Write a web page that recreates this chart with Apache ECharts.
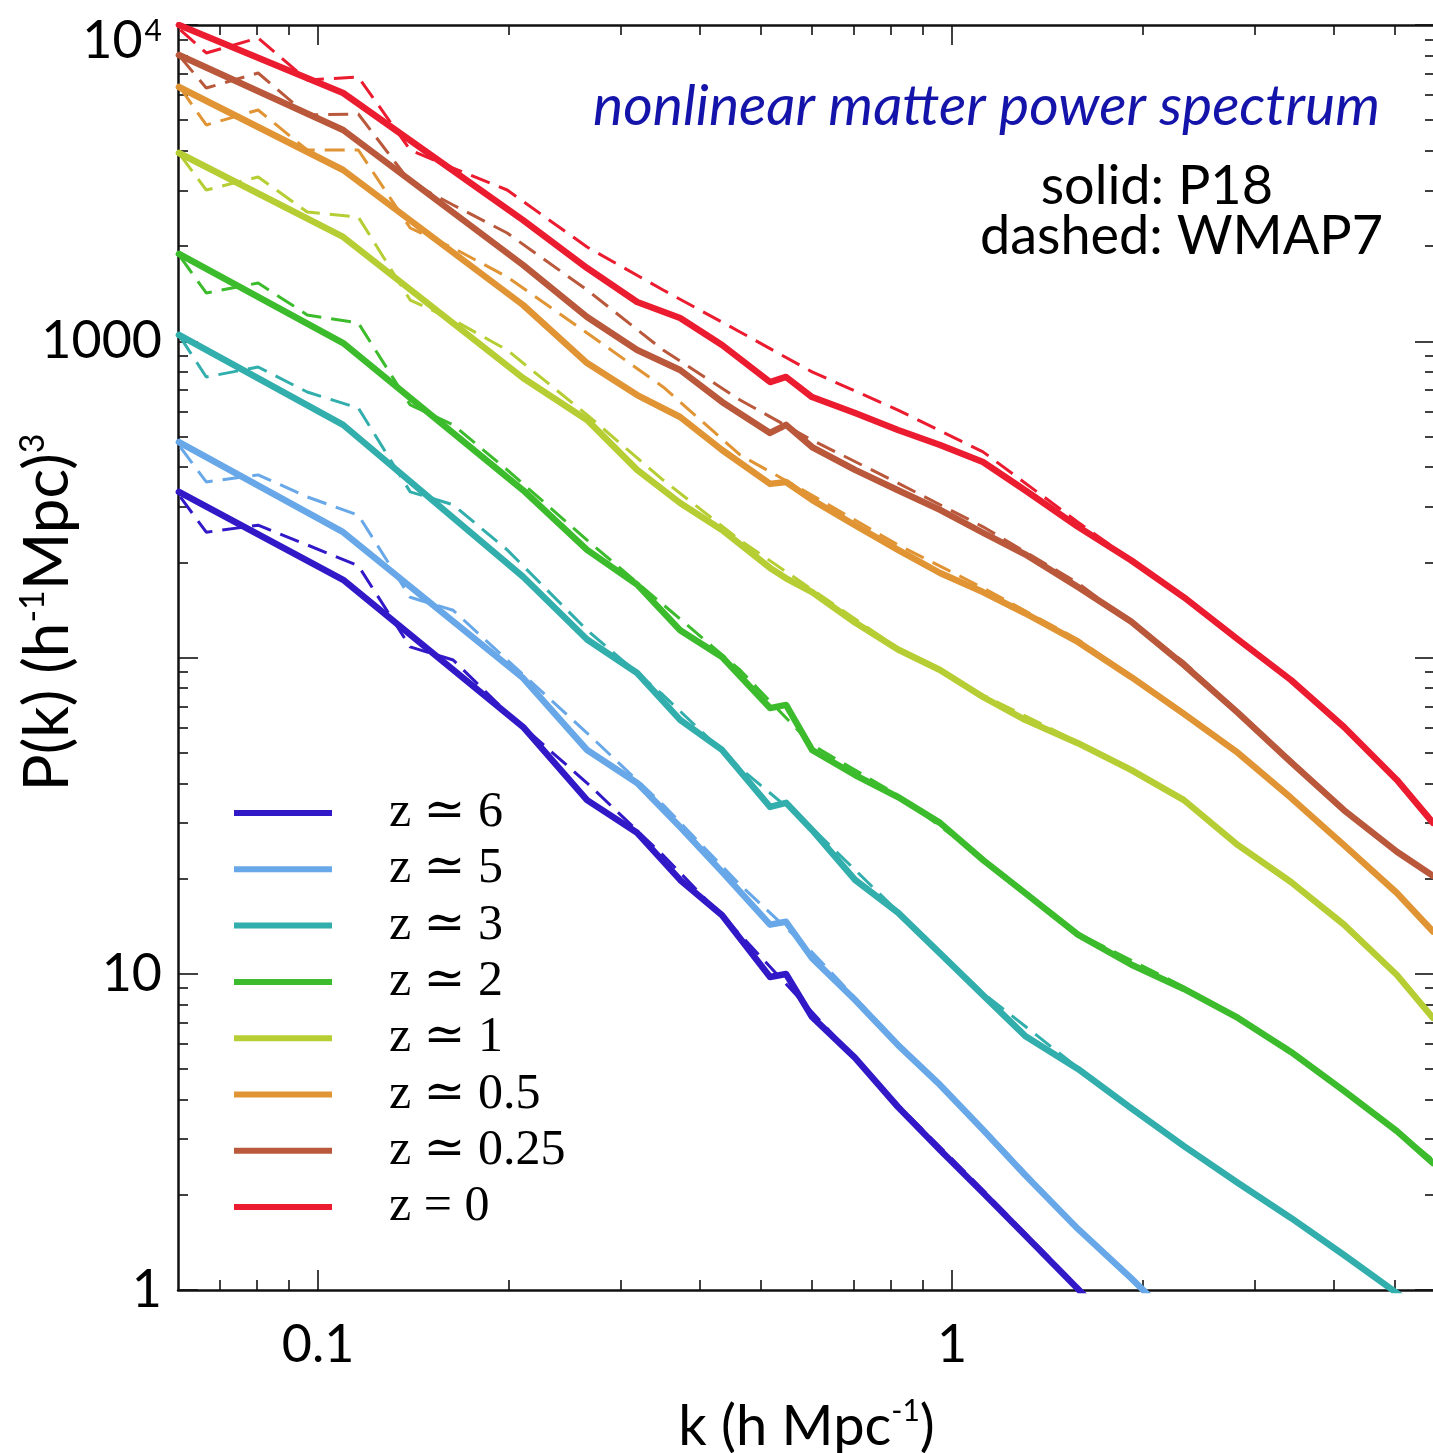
<!DOCTYPE html>
<html>
<head>
<meta charset="utf-8">
<script src="https://cdn.jsdelivr.net/npm/echarts@6/dist/echarts.min.js"></script>
<style>
html,body{margin:0;padding:0;background:#fff;}
#chart{width:1433px;height:1453px;}
</style>
</head>
<body>
<div id="chart"></div>
<script>
// ---------------- data ----------------
// wavenumbers (h/Mpc) of the P18 (solid) curves
const kP18 = [0.0603, 0.1095, 0.2105, 0.2656, 0.3186, 0.3724, 0.4337, 0.5163, 0.5472, 0.6014, 0.7031, 0.8218, 0.9574, 1.119, 1.304, 1.580, 1.916, 2.322, 2.826, 3.425, 4.153, 5.033, 5.737];
// wavenumbers (h/Mpc) of the WMAP7 (dashed) curves
const kWMAP7 = [0.0606, 0.0666, 0.0804, 0.0961, 0.1157, 0.1397, 0.1633, 0.1987, 0.2656, 0.3501, 0.4630, 0.6014, 0.8218, 1.119, 1.580, 2.322, 2.826, 3.425, 4.153, 5.033, 5.737];

// P(k) for P18 (solid)
const p18_z6   = [334, 176, 60.3, 35.4, 27.9, 19.8, 15.3, 9.77, 9.98, 7.30, 5.42, 3.79, 2.77, 2.03, 1.49, 1.007, 0.680];
const p18_z5   = [480, 249, 86.1, 51.0, 40.1, 29.1, 21.0, 14.3, 14.6, 11.2, 8.26, 5.95, 4.45, 3.21, 2.31, 1.56, 1.09, 0.747];
const p18_z3   = [1047, 544, 180, 114, 89.3, 63.5, 51.0, 33.7, 34.7, 28.5, 19.8, 15.6, 11.6, 8.56, 6.36, 5.00, 3.76, 2.85, 2.18, 1.69, 1.29, 0.978, 0.804];
const p18_z2   = [1888, 987, 338, 219, 170, 122, 100.4, 69.2, 70.8, 51.0, 42.5, 36.2, 30.0, 22.9, 18.0, 13.3, 10.7, 8.95, 7.25, 5.66, 4.26, 3.18, 2.52];
const p18_z1   = [3938, 2137, 765, 564, 392, 308, 253, 192, 178, 161, 129, 106, 91.3, 75.0, 63.5, 53.6, 44.1, 35.4, 25.5, 19.5, 14.3, 9.91, 7.25];
const p18_z05  = [6368, 3479, 1302, 853, 676, 576, 453, 354, 359, 315, 262, 219, 185, 161, 138, 112, 86.8, 66.3, 49.9, 36.0, 25.5, 18.0, 13.6];
const p18_z025 = [8036, 4656, 1742, 1193, 938, 811, 643, 513, 544, 463, 392, 338, 293, 248, 212, 167, 130, 94.7, 66.8, 46.7, 32.9, 24.3, 20.4];
const p18_z0   = [10000, 6095, 2417, 1704, 1331, 1185, 973, 743, 771, 666, 593, 524, 470, 415, 338, 259, 203, 155, 114, 84.9, 60.3, 41.0, 30.0];

// P(k) for WMAP7 (dashed)
const wmap7_z6   = [322, 249, 262, 227, 195, 108, 98.2, 66.8, 40.1, 23.7, 13.3, 7.57, 3.85, 2.07, 1.022, 0.449];
const wmap7_z5   = [463, 359, 378, 322, 282, 155, 141, 98.2, 57.7, 34.2, 19.1, 11.7, 6.04, 3.25, 1.57, 0.747];
const wmap7_z3   = [1031, 771, 829, 691, 615, 334, 304, 219, 122, 76.1, 44.7, 28.9, 15.7, 8.69, 5.04, 2.87, 2.18, 1.70, 1.29, 0.978, 0.804];
const wmap7_z2   = [1847, 1421, 1528, 1211, 1142, 629, 544, 392, 235, 147, 91.3, 52.9, 36.7, 23.2, 13.4, 9.08, 7.25, 5.74, 4.26, 3.18, 2.58];
const wmap7_z1   = [3881, 3008, 3307, 2563, 2471, 1350, 1168, 938, 585, 364, 235, 164, 107, 76.1, 54.0, 35.4, 25.5, 19.5, 14.3, 9.91, 7.25];
const wmap7_z05  = [6322, 4829, 5385, 4024, 4024, 2281, 1972, 1597, 1062, 717, 437, 326, 227, 166, 114, 66.8, 49.9, 36.2, 25.5, 18.0, 13.7];
const wmap7_z025 = [7920, 6322, 7050, 5192, 5231, 3189, 2697, 2199, 1452, 938, 652, 487, 356, 259, 172, 96.8, 66.8, 47.4, 32.9, 24.3, 20.4];
const wmap7_z0   = [9643, 8157, 9097, 6700, 6848, 4024, 3530, 3008, 1986, 1452, 1070, 800, 606, 447, 268, 155, 114, 84.9, 60.3, 41.0, 30.6];

const redshiftLabels = ['z \u2243 6', 'z \u2243 5', 'z \u2243 3', 'z \u2243 2', 'z \u2243 1', 'z \u2243 0.5', 'z \u2243 0.25', 'z = 0'];
const lineColors = ['#3219c8', '#68a8e8', '#32aeac', '#3cbc2c', '#b6ce34', '#e09434', '#ba583c', '#ec1c30'];

// axis ticks
const xTickValues = [0.1, 1];
const xMinorTicks = [0.07, 0.08, 0.09, 0.2, 0.3, 0.4, 0.5, 0.6, 0.7, 0.8, 0.9, 2, 3, 4, 5];
const yTickValues = [1, 10, 1000, 10000];
const yMajorTicks = [1, 10, 100, 1000, 10000];
const yMinorTicks = [2,3,4,5,6,7,8,9, 20,30,40,50,60,70,80,90, 200,300,400,500,600,700,800,900, 2000,3000,4000,5000,6000,7000,8000,9000];
const xRange = [0.0601, 5.78];
const yRange = [1, 10000];

// ---------------- chart ----------------
const L = Math.log10;
const SANS = 'Lato, "Open Sans", "DejaVu Sans", sans-serif';
const SERIF = '"Liberation Serif", "DejaVu Serif", serif';
const AX = '#111';

const P18 = [p18_z6, p18_z5, p18_z3, p18_z2, p18_z1, p18_z05, p18_z025, p18_z0];
const W7 = [wmap7_z6, wmap7_z5, wmap7_z3, wmap7_z2, wmap7_z1, wmap7_z05, wmap7_z025, wmap7_z0];

function toLog(ks, ps) { return ps.map((p, i) => [L(ks[i]), L(p)]); }

function xAxisDef(position, ticks, len, withLine, withLabels) {
  const a = {
    type: 'value', position, min: L(xRange[0]), max: L(xRange[1]),
    axisLine: { show: withLine, onZero: false, lineStyle: { color: AX, width: 2.5 } },
    axisTick: { show: true, inside: true, length: len, customValues: ticks.map(L), lineStyle: { color: AX, width: 1.6 } },
    axisLabel: { show: false },
    splitLine: { show: false }
  };
  if (withLabels) {
    a.axisLabel = {
      show: true, customValues: xTickValues.map(L), margin: 29,
      formatter: v => String(+Math.pow(10, v).toPrecision(3)),
      color: '#000', fontSize: 52, fontFamily: SANS
    };
    a.name = '{a|k (h Mpc}{s|-1}{a|)}';
    a.nameLocation = 'middle';
    a.nameGap = 106;
    a.nameMoveOverlap = false;
    a.nameTextStyle = {
      rich: {
        a: { fontSize: 56, fontFamily: SANS, color: '#000', lineHeight: 62 },
        s: { fontSize: 30, fontFamily: SANS, color: '#000', verticalAlign: 'top', lineHeight: 34 }
      }
    };
  }
  return a;
}
function yAxisDef(position, ticks, len, withLine, withLabels) {
  const a = {
    type: 'value', position, min: L(yRange[0]), max: L(yRange[1]),
    axisLine: { show: withLine, onZero: false, lineStyle: { color: AX, width: 2.5 } },
    axisTick: { show: true, inside: true, length: len, customValues: ticks.map(L), lineStyle: { color: AX, width: 1.6 } },
    axisLabel: { show: false },
    splitLine: { show: false }
  };
  if (withLabels) {
    a.axisLabel = {
      show: true, customValues: yTickValues.map(L), margin: 16,
      formatter: v => {
        const p = Math.round(Math.pow(10, v));
        if (p >= 10000) return '{b|10}{sup|' + Math.round(v) + '}';
        return String(p);
      },
      color: '#000', fontSize: 52, fontFamily: SANS,
      rich: {
        b: { fontSize: 52, fontFamily: SANS, color: '#000', lineHeight: 58, padding: [32, 0, 0, 0] },
        sup: { fontSize: 30, fontFamily: SANS, color: '#000', lineHeight: 30, padding: [20, 0, 0, 2], verticalAlign: 'top' }
      }
    };
    a.name = '{a|P(k) (h}{s|-1}{a|Mpc)}{s|3}';
    a.nameLocation = 'middle';
    a.nameGap = 98;
    a.nameMoveOverlap = false;
    a.nameTextStyle = {
      padding: [0, 0, 0, 90],
      rich: {
        a: { fontSize: 62, fontFamily: SANS, color: '#000', lineHeight: 64 },
        s: { fontSize: 34, fontFamily: SANS, color: '#000', verticalAlign: 'top', lineHeight: 36 }
      }
    };
  }
  return a;
}

const series = [];
P18.forEach((ps, i) => {
  series.push({
    type: 'line', name: redshiftLabels[i], data: toLog(kP18, ps),
    xAxisIndex: 0, yAxisIndex: 0, showSymbol: false, symbol: 'none', clip: true, z: 3,
    color: lineColors[i],
    lineStyle: { color: lineColors[i], width: 6.5, cap: 'round', join: 'round' }
  });
});
W7.forEach((ps, i) => {
  series.push({
    type: 'line', name: redshiftLabels[i] + ' WMAP7', data: toLog(kWMAP7, ps),
    xAxisIndex: 0, yAxisIndex: 0, showSymbol: false, symbol: 'none', clip: true, z: 4,
    color: lineColors[i],
    lineStyle: { color: lineColors[i], width: 3, type: [20, 10] }
  });
});

const chart = echarts.init(document.getElementById('chart'), null, { renderer: 'canvas', width: 1433, height: 1453 });
chart.setOption({
  animation: false,
  backgroundColor: '#fff',
  grid: { left: 178, top: 25, width: 1257, height: 1265, containLabel: false, outerBoundsMode: 'none' },
  xAxis: [
    xAxisDef('bottom', xTickValues, 20, true, true),
    xAxisDef('bottom', xMinorTicks, 10, false, false),
    xAxisDef('top', xTickValues, 20, true, false),
    xAxisDef('top', xMinorTicks, 10, false, false)
  ],
  yAxis: [
    yAxisDef('left', yMajorTicks, 20, true, true),
    yAxisDef('left', yMinorTicks, 10, false, false),
    yAxisDef('right', yMajorTicks, 20, true, false),
    yAxisDef('right', yMinorTicks, 10, false, false)
  ],
  legend: {
    data: redshiftLabels, orient: 'vertical', left: 234, top: 788, padding: 0,
    itemGap: 6.3, itemWidth: 98, itemHeight: 6, icon: 'rect', selectedMode: false,
    textStyle: { fontFamily: SERIF, fontSize: 50, lineHeight: 50, color: '#000', padding: [0, 0, 0, 52] }
  },
  graphic: [
    { type: 'text', silent: true, style: { text: 'nonlinear matter power spectrum', x: 1380, y: 107, align: 'right', verticalAlign: 'middle', font: 'italic 57px ' + SANS, fill: '#1414aa' } },
    { type: 'text', silent: true, style: { text: 'solid: P18', x: 1273, y: 187, align: 'right', verticalAlign: 'middle', font: '54px ' + SANS, fill: '#000' } },
    { type: 'text', silent: true, style: { text: 'dashed: WMAP7', x: 1383, y: 237, align: 'right', verticalAlign: 'middle', font: '54px ' + SANS, fill: '#000' } }
  ],
  series
});
</script>
</body>
</html>
